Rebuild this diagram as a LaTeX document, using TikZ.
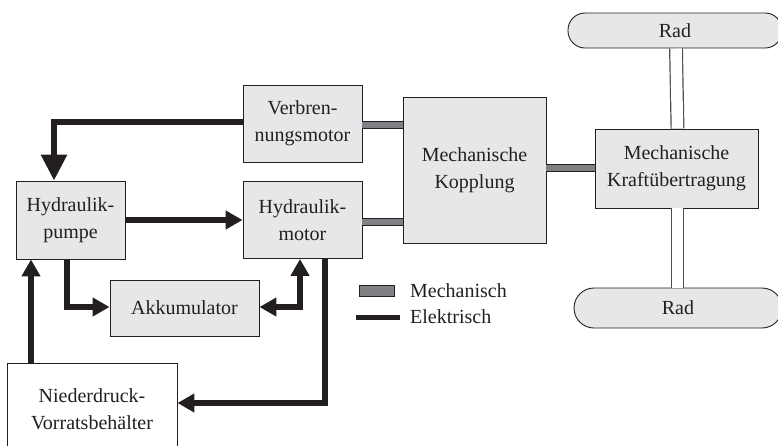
\documentclass[tikz,border=0pt]{standalone}
\usepackage{fontspec}
\setmainfont{Liberation Serif}
\usetikzlibrary{arrows.meta}
\definecolor{ink}{HTML}{231F20}
\definecolor{boxfill}{HTML}{E6E7E8}
\definecolor{shaft}{HTML}{808184}
\tikzset{
  x=1pt, y=-1pt,
  unit/.style={draw=ink, line width=0.9pt, fill=boxfill, align=center,
    text=ink, inner sep=0pt, font=\fontsize{20}{27}\selectfont},
  wheel/.style={unit, rounded corners=17pt},
  flow/.style={draw=ink, line width=6pt,
    -{Triangle[length=17pt,width=18pt]}},
  bigflow/.style={draw=ink, line width=6pt,
    -{Triangle[length=26pt,width=25pt]}},
  mech/.style={draw=ink, line width=1pt, double=shaft, double distance=6.5pt},
  axle/.style={draw=ink!80, line width=1.2pt, double=white, double distance=11.5pt},
  legendtext/.style={anchor=west, text=ink, inner sep=0pt,
    font=\fontsize{20}{24}\selectfont}
}
\begin{document}
\begin{tikzpicture}
\useasboundingbox (0,0) rectangle (778,445);
\clip (0,0) rectangle (778,445);

% blocks
\node[unit, minimum width=119pt, minimum height=77pt] (verb) at (302.5,123.5) {Verbren-\\nungsmotor};
\node[unit, minimum width=109pt, minimum height=78pt] (pumpe) at (70.5,220) {Hydraulik-\\pumpe};
\node[unit, minimum width=119pt, minimum height=77pt] (hmotor) at (302.5,220) {Hydraulik-\\motor};
\node[unit, minimum width=143pt, minimum height=146pt] (kopp) at (474.5,170) {Mechanische\\Kopplung};
\node[unit, minimum width=163pt, minimum height=79pt] (kraft) at (676.5,168.5) {Mechanische\\Kraftübertragung};
\node[unit, minimum width=149pt, minimum height=56pt] (akku) at (184.5,308) {Akkumulator};
\node[unit, fill=white, minimum width=170pt, minimum height=92pt] (nieder) at (92,409) {Niederdruck-\\Vorratsbehälter};
\node[wheel, minimum width=214pt, minimum height=35pt] (radoben) at (675,30.5) {Rad};
\node[wheel, rounded corners=20pt, minimum width=208pt, minimum height=40pt] (radunten) at (678,308) {Rad};

% axles to the wheels
\draw[axle] ([xshift=1pt]radoben.south) -- ([xshift=1pt]kraft.north);
\draw[axle] ([xshift=1pt]kraft.south) -- ([xshift=-0.5pt]radunten.north);

% mechanical shafts
\draw[mech] ([yshift=-1.5pt]verb.east) -- ([yshift=-1.5pt]verb.east -| kopp.west);
\draw[mech] ([yshift=-2pt]hmotor.east) -- ([yshift=-2pt]hmotor.east -| kopp.west);
\draw[mech] ([yshift=2pt]kopp.east) -- ([yshift=2pt]kopp.east -| kraft.west);

% hydraulic flows
\draw[bigflow] ([yshift=1.5pt]verb.west) -| ([xshift=-16.5pt]pumpe.north);
\draw[flow] (pumpe.east) -- (hmotor.west);
\draw[flow] ([xshift=-3.5pt]pumpe.south) |- ([yshift=1pt]akku.west);
\draw[flow, {Triangle[length=17pt,width=18pt]}-{Triangle[length=17pt,width=18pt]}]
  ([yshift=1pt]akku.east) -| ([xshift=-2.5pt]hmotor.south);
\draw[flow] ([xshift=22.5pt]hmotor.south) |- ([yshift=6pt]nieder.east);
\draw[flow] ([xshift=-61pt]nieder.north) -- ([xshift=-61pt]nieder.north |- pumpe.south);

% legend
\node[draw=ink, line width=1pt, fill=shaft, minimum width=35pt, minimum height=11pt, inner sep=0pt] (legmech) at (377,291) {};
\node[legendtext] (legmechtext) at (410,291) {Mechanisch};
\coordinate (legelA) at (356,317);
\coordinate (legelB) at (400,317);
\draw[draw=ink, line width=5pt] (legelA) -- (legelB);
\node[legendtext] (legeltext) at (410,317) {Elektrisch};
\end{tikzpicture}
\end{document}
